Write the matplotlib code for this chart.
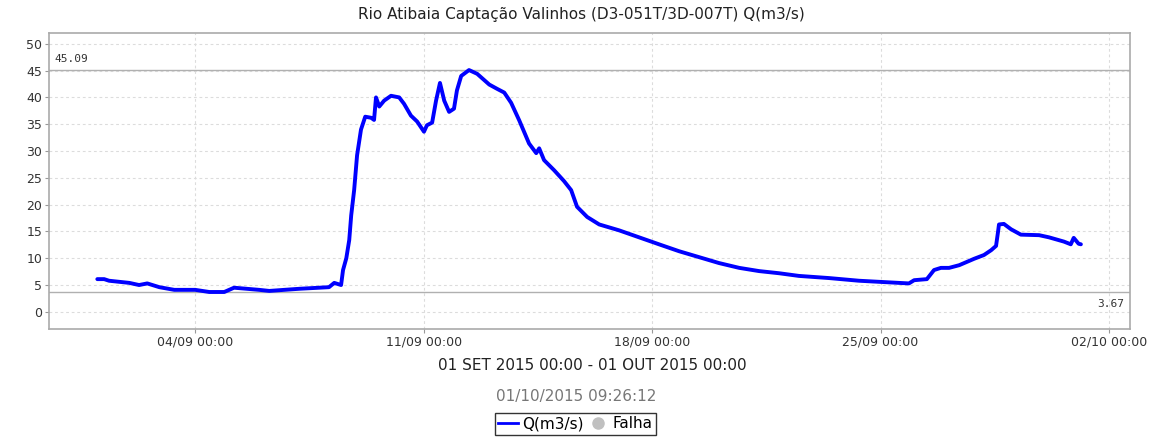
import matplotlib
matplotlib.use("Agg")
import matplotlib.pyplot as plt
import matplotlib.dates as mdates
from matplotlib.lines import Line2D
import datetime as dt

# Day offsets since 01/09/2015 00:00 and flow values Q (m3/s)
day_offsets = [0.0, 0.21, 0.36, 0.98, 1.28, 1.53, 1.90, 2.36, 3.00, 3.43, 3.89, 4.19,
               4.96, 5.27, 5.73, 6.19, 6.80, 7.10, 7.26, 7.47, 7.53, 7.63, 7.72, 7.78,
               7.87, 7.96, 8.08, 8.21, 8.39, 8.48, 8.54, 8.64, 8.79, 9.00, 9.25, 9.40,
               9.61, 9.80, 10.01, 10.10, 10.26, 10.38, 10.50, 10.63, 10.78, 10.93, 11.02,
               11.15, 11.39, 11.64, 12.01, 12.25, 12.47, 12.68, 12.93, 13.23, 13.45, 13.54,
               13.69, 14.00, 14.30, 14.52, 14.70, 15.01, 15.38, 15.99, 16.60, 17.21, 17.83,
               18.44, 19.05, 19.67, 20.28, 20.89, 21.50, 22.42, 23.34, 23.95, 24.87, 25.03,
               25.42, 25.64, 25.85, 26.10, 26.41, 26.87, 27.17, 27.39, 27.54, 27.60, 27.63,
               27.78, 28.00, 28.30, 28.86, 29.16, 29.62, 29.83, 29.92, 30.07, 30.14]
q_values = [6.1, 6.1, 5.8, 5.4, 5.0, 5.3, 4.6, 4.1, 4.1, 3.7, 3.7, 4.5,
            4.1, 3.9, 4.1, 4.3, 4.5, 4.6, 5.4, 5.0, 7.8, 10.0, 13.4, 18.0,
            22.7, 29.2, 34.0, 36.4, 36.2, 35.8, 40.0, 38.3, 39.4, 40.3, 40.0, 38.8,
            36.6, 35.5, 33.6, 34.8, 35.3, 39.4, 42.7, 39.4, 37.3, 37.9, 41.3,
            44.0, 45.1, 44.4, 42.4, 41.6, 40.9, 39.0, 35.7, 31.4, 29.6, 30.5,
            28.3, 26.4, 24.4, 22.7, 19.6, 17.7, 16.3, 15.2, 13.9, 12.6, 11.3,
            10.2, 9.1, 8.2, 7.6, 7.2, 6.7, 6.3, 5.8, 5.6, 5.3, 5.9,
            6.1, 7.8, 8.2, 8.2, 8.7, 9.9, 10.6, 11.5, 12.3, 14.9, 16.3,
            16.4, 15.4, 14.4, 14.3, 13.9, 13.1, 12.6, 13.8, 12.7, 12.6]
max_value = 45.09
min_value = 3.67
y_ticks = [0, 5, 10, 15, 20, 25, 30, 35, 40, 45, 50]
x_tick_dates = ["2015-09-04", "2015-09-11", "2015-09-18", "2015-09-25", "2015-10-02"]

title = "Rio Atibaia Captação Valinhos (D3-051T/3D-007T) Q(m3/s)"
period_label = "01 SET 2015 00:00 - 01 OUT 2015 00:00"
stamp_label = "01/10/2015 09:26:12"

start = dt.datetime(2015, 9, 1)
times = [start + dt.timedelta(days=d) for d in day_offsets]

fig = plt.figure(figsize=(11.62, 4.41), dpi=100)
ax = fig.add_axes([0.0422, 0.254, 0.9303, 0.671])

ax.plot(times, q_values, color="#0000ff", linewidth=2.8, solid_joinstyle="round",
        solid_capstyle="round", zorder=3)

ax.axhline(max_value, color="#b0b0b0", linewidth=1.0)
ax.axhline(min_value, color="#b0b0b0", linewidth=1.0)
ax.text(0.005, max_value + 1.2, f"{max_value:.2f}", transform=ax.get_yaxis_transform(),
        fontsize=8, family="DejaVu Sans Mono", color="#333333", va="bottom", ha="left")
ax.text(0.995, min_value - 1.2, f"{min_value:.2f}", transform=ax.get_yaxis_transform(),
        fontsize=8, family="DejaVu Sans Mono", color="#333333", va="top", ha="right")

ax.set_xlim(dt.datetime(2015, 8, 30, 12, 30), dt.datetime(2015, 10, 2, 15, 30))
ax.set_ylim(-3.2, 52)
ax.set_yticks(y_ticks)
ax.set_xticks([dt.datetime.strptime(s, "%Y-%m-%d") for s in x_tick_dates])
ax.xaxis.set_major_formatter(mdates.DateFormatter("%d/%m %H:%M"))
ax.tick_params(labelsize=9, colors="#333333", length=3, color="#999999", pad=2)
ax.grid(True, linestyle=(0, (2.5, 2.5)), color="#dcdcdc", linewidth=0.8)
for s in ax.spines.values():
    s.set_color("#aaaaaa")
    s.set_linewidth(1.2)

fig.text(0.5, 1 - 15 / 441, title, ha="center", va="center", fontsize=11, color="#222222")
fig.text(0.51, 1 - 366 / 441, period_label, ha="center", va="center", fontsize=11, color="#222222")
fig.text(0.496, 1 - 396 / 441, stamp_label, ha="center", va="center", fontsize=11, color="#777777")

handles = [Line2D([], [], color="#0000ff", linewidth=2),
           Line2D([], [], color="#c0c0c0", marker="o", linestyle="none", markersize=8)]
leg = fig.legend(handles, ["Q(m3/s)", "Falha"], loc="center", bbox_to_anchor=(0.495, 1 - 424 / 441),
                 ncol=2, frameon=True, fancybox=False, edgecolor="black", fontsize=11,
                 handlelength=1.3, handletextpad=0.3, columnspacing=0.3, borderpad=0.2)
leg.get_frame().set_linewidth(1.0)

fig.savefig("out.png", dpi=100)
